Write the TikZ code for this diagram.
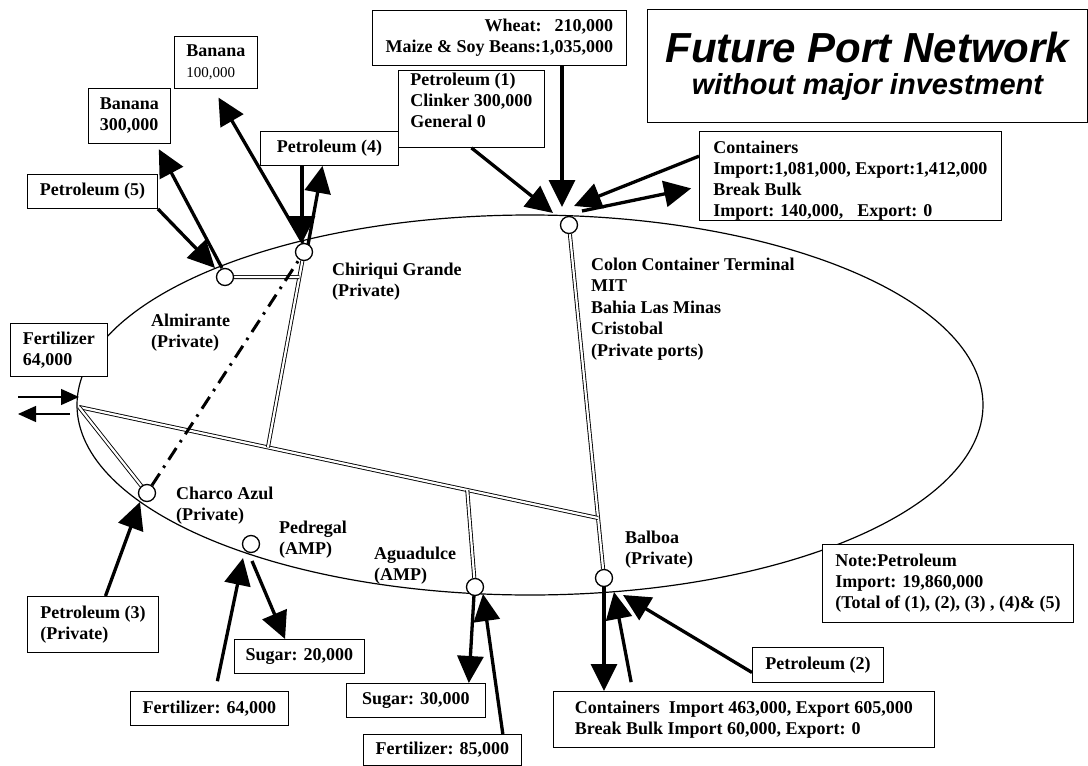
\documentclass[tikz,border=0pt]{standalone}
\usepackage{fontspec}
\setmainfont{Liberation Serif}
\newfontfamily\headfont{Liberation Sans}
\usetikzlibrary{arrows.meta, calc, backgrounds}

\begin{document}
\begin{tikzpicture}[x=1pt, y=-1pt,
            cargo/.style={draw, fill=white, line width=0.9pt, anchor=north west, align=left, inner sep=0pt, minimum width=#1, font=\fontsize{18}{21}\selectfont\bfseries},
            place/.style={anchor=north west, align=left, inner sep=0pt, font=\fontsize{18}{21.5}\selectfont\bfseries},
            port/.style={circle, draw, line width=1.3pt, fill=white, minimum size=17pt, inner sep=0pt},
            rail/.style={draw, double, double distance=2.2pt, line width=0.9pt},
            pipe/.style={draw, line width=3pt, dash pattern=on 14pt off 7pt on 2.5pt off 7pt},
            flow/.style={draw, line width=3.3pt, -{Triangle[length=27pt, width=26pt]}},
            thinflow/.style={draw, line width=1.3pt, -{Triangle[length=18pt, width=16pt]}}]
            \useasboundingbox (0,0) rectangle (1088,766);
            \node[port] (chiriqui)  at (304,252) {};
            \node[port] (almirante) at (225,277) {};
            \node[port] (colon)     at (569,225) {};
            \node[port] (charco)    at (147,493) {};
            \node[port] (pedregal)  at (251,544) {};
            \node[port] (aguadulce) at (475,587) {};
            \node[port] (balboa)    at (604,578) {};
            \node[place] (chiriquiL)  at (332,262.5) {Chiriqui Grande\\(Private)};
            \node[place] (almiranteL) at (151,313.5) {Almirante\\(Private)};
            \node[place] (colonL)     at (591,257.5) {Colon Container Terminal\\MIT\\Bahia Las Minas\\Cristobal\\(Private ports)};
            \node[place] (charcoL)    at (176,486.5) {Charco Azul\\(Private)};
            \node[place] (pedregalL)  at (279,520.5) {Pedregal\\(AMP)};
            \node[place] (aguadulceL) at (374,546.5) {Aguadulce\\(AMP)};
            \node[place] (balboaL)    at (625,530.5) {Balboa\\(Private)};
            \node[cargo=83pt, minimum height=52pt]  (ban100) at (174,36)  {Banana\\{\mdseries\fontsize{15}{17}\selectfont 100,000}};
            \node[cargo=82pt, minimum height=55pt]  (ban300) at (88,88)   {Banana\\300,000};
            \node[cargo=130pt, minimum height=34pt] (pet5)   at (27,174)  {Petroleum (5)};
            \node[cargo=138pt, minimum height=34pt] (pet4)   at (260,131) {Petroleum (4)};
            \node[cargo=146pt, minimum height=77pt, text depth=18pt] (pet1) at (398,70) {Petroleum (1)\\Clinker 300,000\\General 0};
            \node[cargo=254pt, minimum height=55pt, align=right] (wheat) at (372,10) {Wheat:\hspace{13pt}210,000\\Maize \& Soy Beans:1,035,000};
            \node[cargo=440pt, minimum height=113pt, align=center, font=\headfont\bfseries\itshape\fontsize{42}{32}\selectfont] (title) at (647,9) {Future Port Network\\{\fontsize{29}{32}\selectfont without major investment}};
            \node[cargo=302pt, minimum height=89pt, text height=85pt] (contC) at (699,131) {Containers\\Import:1,081,000, Export:1,412,000\\Break Bulk\\Import: 140,000,\hspace{14pt}Export: 0};
            \node[cargo=97pt, minimum height=53pt]  (fert64w) at (10,323) {Fertilizer\\64,000};
            \node[cargo=131pt, minimum height=56pt] (pet3)   at (27,596)  {Petroleum (3)\\(Private)};
            \node[cargo=130pt, minimum height=34pt] (sug20)  at (234,639) {Sugar: 20,000};
            \node[cargo=158pt, minimum height=34pt] (fert64) at (130,691) {Fertilizer: 64,000};
            \node[cargo=139pt, minimum height=34pt] (sug30)  at (346,683) {Sugar: 30,000};
            \node[cargo=158pt, minimum height=31pt] (fert85) at (363,734) {Fertilizer: 85,000};
            \node[cargo=381pt, minimum height=56pt] (contB)  at (553,691) {Containers\hspace{9pt}Import 463,000, Export 605,000\\Break Bulk Import 60,000, Export: 0};
            \node[cargo=131pt, minimum height=35pt] (pet2)   at (752,647) {Petroleum (2)};
            \node[cargo=251pt, minimum height=78pt] (note)   at (822,544) {Note:Petroleum\\Import: 19,860,000\\(Total of (1), (2), (3) , (4)\& (5)};
            \coordinate (jw)  at (79,407);
            \coordinate (jb)  at ($(colon)!0.83!(balboa)$);
            \coordinate (jc)  at ($(jw)!0.364!(jb)$);
            \coordinate (ja)  at ($(jw)!0.748!(jb)$);
            \coordinate (jal) at ($(chiriqui)!0.128!(jc)$);
            \begin{scope}[on background layer]
                \draw[line width=1.2pt] (530,405) ellipse [x radius=453, y radius=190];
                \draw[rail] (colon) -- (balboa);
                \draw[rail] (jw) -- (jb);
                \draw[rail] (jw) -- (charco);
                \draw[rail] (chiriqui) -- (jc);
                \draw[rail] (almirante) -- (jal);
                \draw[rail] (aguadulce) -- (ja);
                \draw[pipe] (charco) -- (chiriqui);
            \end{scope}
            \coordinate (cw) at (562,207);
            \coordinate (cp) at (553,213);
            \coordinate (ci) at (574,206);
            \coordinate (co) at (582,211);
            \draw[flow] (wheat.south -| cw) -- (cw);
            \draw[flow] (pet1.south) -- (cp);
            \draw[flow] ($(contC.north west)!0.28!(contC.south west)$) -- (ci);
            \draw[flow, shorten >=8pt] (co) -- ($(contC.north west)!0.62!(contC.south west)$);
            \coordinate (hi) at (302,243);
            \coordinate (ho) at (308,245);
            \coordinate (hb) at (303,243);
            \draw[flow] (pet4.south -| hi) -- (hi);
            \draw[flow] (ho) -- ($(pet4.south west)!0.45!(pet4.south east)$);
            \draw[flow, shorten >=10pt] (hb) -- ($(ban100.south west)!0.47!(ban100.south east)$);
            \coordinate (ab) at (222,268);
            \coordinate (ap) at (215,268);
            \draw[flow, shorten >=6pt] (ab) -- ($(ban300.south west)!0.82!(ban300.south east)$);
            \draw[flow] (pet5.south east) -- (ap);
            \coordinate (cz) at (140,502);
            \draw[flow] ($(pet3.north west)!0.595!(pet3.north east)$) -- (cz);
            \coordinate (pf) at (243,558);
            \coordinate (ps) at (252,561);
            \draw[flow, shorten <=10pt] ($(fert64.north west)!0.537!(fert64.north east)$) -- (pf);
            \draw[flow] (ps) -- ($(sug20.north west)!0.39!(sug20.north east)$);
            \coordinate (gs) at (474,595);
            \coordinate (gf) at (483,594);
            \draw[flow] (gs) -- ($(sug30.north west)!0.878!(sug30.north east)$);
            \draw[flow] ($(fert85.north west)!0.88!(fert85.north east)$) -- (gf);
            \coordinate (bc) at (604,586);
            \coordinate (bi) at (614,592);
            \coordinate (bp) at (623,595);
            \draw[flow] (bc) -- (bc |- contB.north);
            \draw[flow, shorten <=9pt] ($(contB.north west)!0.209!(contB.north east)$) -- (bi);
            \draw[flow] ($(pet2.north west)!0.71!(pet2.south west)$) -- (bp);
            \coordinate (wi) at (18,397);
            \coordinate (wo) at (70,414);
            \draw[thinflow] (wi) -- (wi -| jw);
            \draw[thinflow] (wo) -- (wo -| wi);
        \end{tikzpicture}
\end{document}
